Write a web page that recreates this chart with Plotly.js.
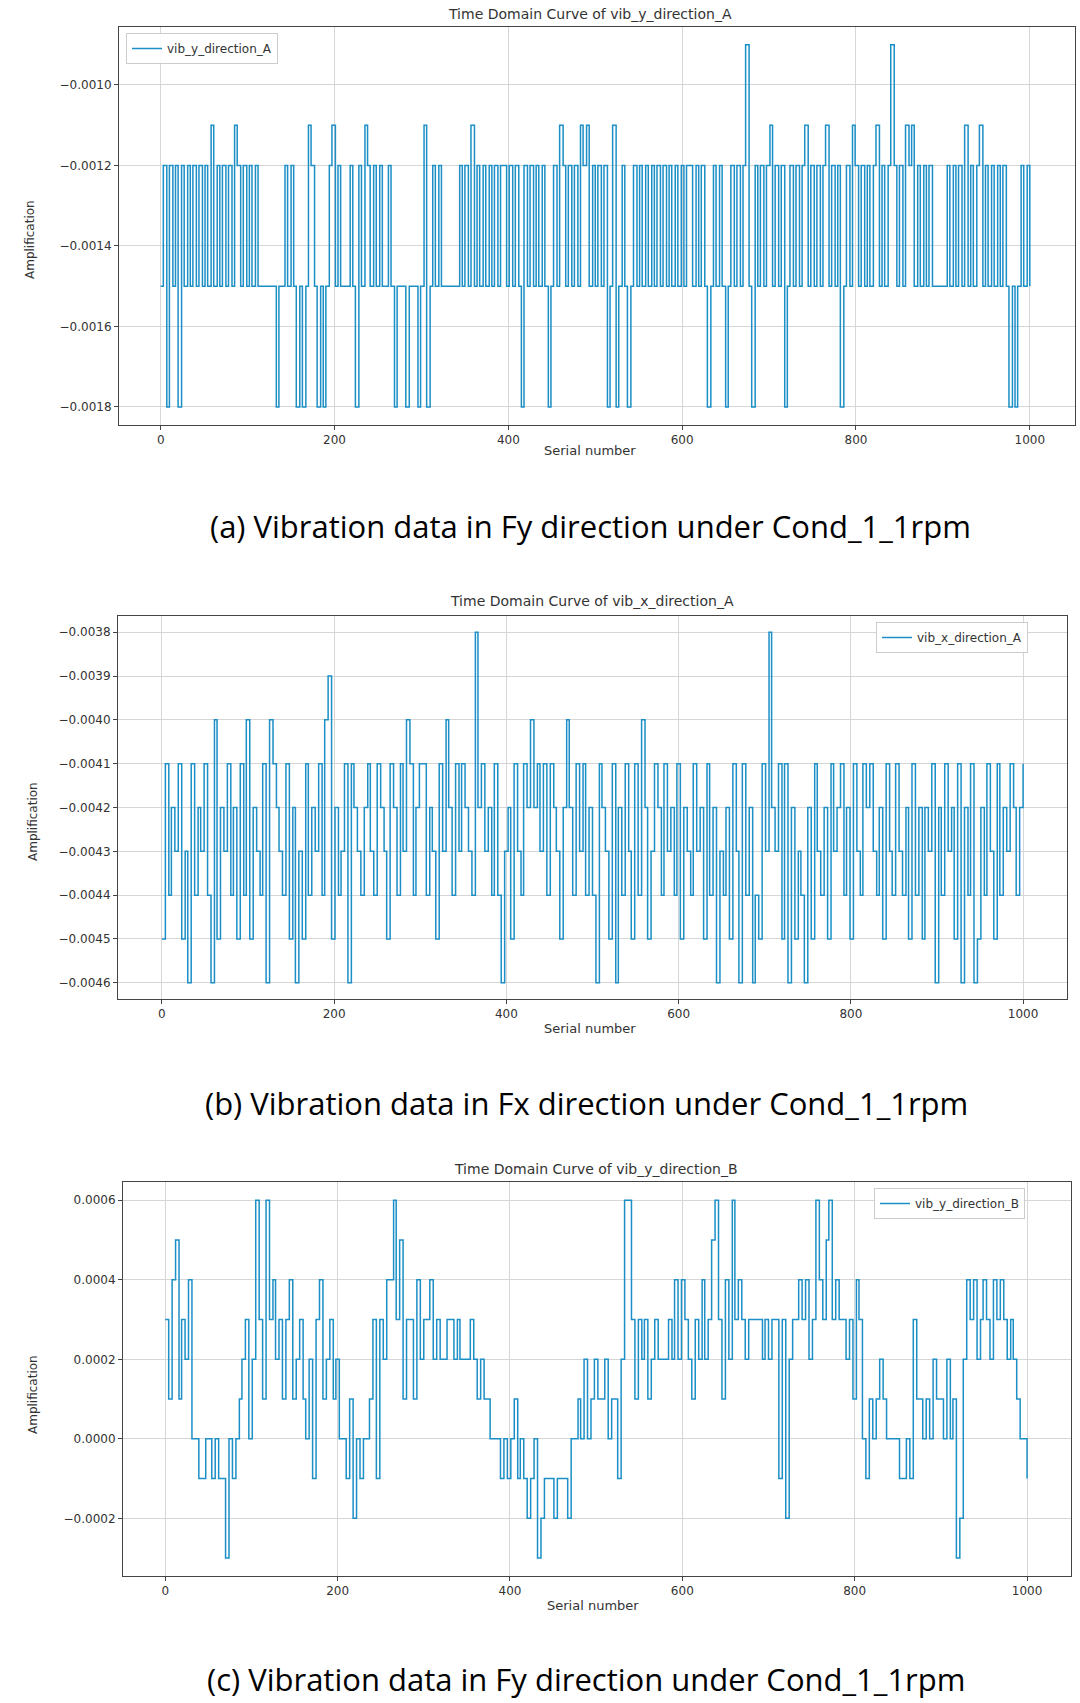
<!DOCTYPE html>
<html>
<head>
<meta charset="utf-8">
<script src="https://cdn.plot.ly/plotly-3.0.1.min.js"></script>
<style>body{margin:0;background:#fff}#chart{width:1080px;height:1703px}</style>
</head>
<body>
<div id="chart"></div>
<script>
// Values read off the picture, one code per sample, sampled evenly over serial numbers 0..1000
// A: 5=-0.0015 1=-0.0012 8=-0.0018 h=-0.0011 n=-0.0009
const seriesA =
  '51815181515151515h5151515h' +
  '151515155555585515158585h158' +
  '5851h5155515815h1515155158555855' +
  '585h851515555551515h5151515151' +
  '1515158151515158515h151515h1h515' +
  '15185h8515851515151515151515151' +
  '1515158515158515151n5815151h' +
  '51518515151h515151h51518515h' +
  '1515151h5151n1515h1h5151515555' +
  '5151515h5151h51515151585851515';
const codeA = { '1': -0.0012, '5': -0.0015, '8': -0.0018, 'h': -0.0011, 'n': -0.0009 };

// B: digit d = -0.0038 - d*0.0001
const seriesB =
  '73645375836453682745364736274563' +
  '82345637485736453621746538345643' +
  '56345734635236433645735246353456' +
  '04354636854735634243536345742463' +
  '53646834573846357362475346354637' +
  '45635473648564735836486735045373' +
  '84756847356473543647356343564735' +
  '63564736474538463547384638746357' +
  '364534643';
// C: digit d = 0.0006 - d*0.0001
const seriesC =
  '35215342667766767796765436403503' +
  '24353254356473254354667586766537' +
  '34220315335243324344334344434545' +
  '56667676576787698777877786656465' +
  '45546557400353435434443424234534' +
  '24310352403234333343433738433232' +
  '43023103233435236756545666677673' +
  '5565645564659842324323423234345667';

const titlesA = 'Time Domain Curve of vib_y_direction_A';
const titlesB = 'Time Domain Curve of vib_x_direction_A';
const titlesC = 'Time Domain Curve of vib_y_direction_B';
const captions = [
  '(a) Vibration data in Fy direction under Cond_1_1rpm',
  '(b) Vibration data in Fx direction under Cond_1_1rpm',
  '(c) Vibration data in Fy direction under Cond_1_1rpm'
];
const names = ['vib_y_direction_A', 'vib_x_direction_A', 'vib_y_direction_B'];

function decode(str, fn) {
  const y = str.split('').map(fn);
  const x = y.map((_, i) => Math.round(i * 1000 / (y.length - 1)));
  return { x, y };
}
const A = decode(seriesA, c => codeA[c]);
const B = decode(seriesB, c => -0.0038 - (+c) * 0.0001);
const C = decode(seriesC, c => 0.0006 - (+c) * 0.0001);

const blue = '#1b8fc6';
const H = 1703, W = 1080;
const py = p => 1 - p / H;
const px = p => p / W;
const font = { family: 'DejaVu Sans', size: 12, color: '#333' };

function ax(dom, range, extra) {
  return Object.assign({
    domain: dom, range: range, showline: true, mirror: true, linecolor: '#444', linewidth: 1,
    showgrid: true, gridcolor: '#d6d6d6', zeroline: false, ticks: 'outside', ticklen: 4,
    tickcolor: '#444', tickfont: font
  }, extra);
}

function trace(d, i, xa, ya, lg) {
  return { x: d.x, y: d.y, type: 'scatter', mode: 'lines', name: names[i], showlegend: true,
    line: { color: blue, width: 1.5, shape: 'hv' }, xaxis: xa, yaxis: ya, legend: lg };
}
const traces = [
  trace(A, 0, 'x', 'y', 'legend'),
  trace(B, 1, 'x2', 'y2', 'legend2'),
  trace(C, 2, 'x3', 'y3', 'legend3')
];

const legendBase = { bgcolor: 'rgba(255,255,255,0.9)', bordercolor: '#ccc', borderwidth: 1, font: font, xanchor: 'left', yanchor: 'top' };

function ann(text, x, y, size, fam) {
  return { text: text, x: x, y: y, xref: 'paper', yref: 'paper', showarrow: false,
    xanchor: 'center', yanchor: 'middle',
    font: { family: fam || 'DejaVu Sans', size: size, color: fam ? '#000' : '#333' } };
}

const layout = {
  width: W, height: H, margin: { l: 0, r: 0, t: 0, b: 0 }, paper_bgcolor: '#fff', plot_bgcolor: '#fff',
  showlegend: true,
  xaxis: ax([px(119), px(1075)], [-48, 1052], { anchor: 'y', dtick: 200 }),
  yaxis: ax([py(425), py(27)], [-0.001845, -0.000856], { anchor: 'x', dtick: 0.0002, tick0: -0.001, tickformat: '.4f' }),
  xaxis2: ax([px(118), px(1067)], [-51, 1051], { anchor: 'y2', dtick: 200 }),
  yaxis2: ax([py(999), py(616)], [-0.004637, -0.003763], { anchor: 'x2', dtick: 0.0001, tickformat: '.4f' }),
  xaxis3: ax([px(123), px(1071)], [-49, 1051], { anchor: 'y3', dtick: 200 }),
  yaxis3: ax([py(1576), py(1182)], [-0.000345, 0.000646], { anchor: 'x3', dtick: 0.0002, tickformat: '.4f' }),
  legend: Object.assign({}, legendBase, { x: px(126), y: py(33) }),
  legend2: Object.assign({}, legendBase, { x: px(876), y: py(622) }),
  legend3: Object.assign({}, legendBase, { x: px(874), y: py(1188) }),
  annotations: [
    ann(titlesA, px(590), py(14), 14),
    ann(titlesB, px(592), py(601), 14),
    ann(titlesC, px(596), py(1169), 14),
    ann('Serial number', px(590), py(450), 13),
    ann('Serial number', px(590), py(1028), 13),
    ann('Serial number', px(593), py(1605), 13),
    Object.assign(ann('Amplification', px(30), py(240), 12), { textangle: -90 }),
    Object.assign(ann('Amplification', px(33), py(822), 12), { textangle: -90 }),
    Object.assign(ann('Amplification', px(33), py(1395), 12), { textangle: -90 }),
    ann(captions[0], px(590), py(526), 31, 'Open Sans'),
    ann(captions[1], px(586), py(1103), 31, 'Open Sans'),
    ann(captions[2], px(586), py(1679), 31, 'Open Sans')
  ]
};

Plotly.newPlot('chart', traces, layout, { staticPlot: true });
</script>
</body>
</html>
